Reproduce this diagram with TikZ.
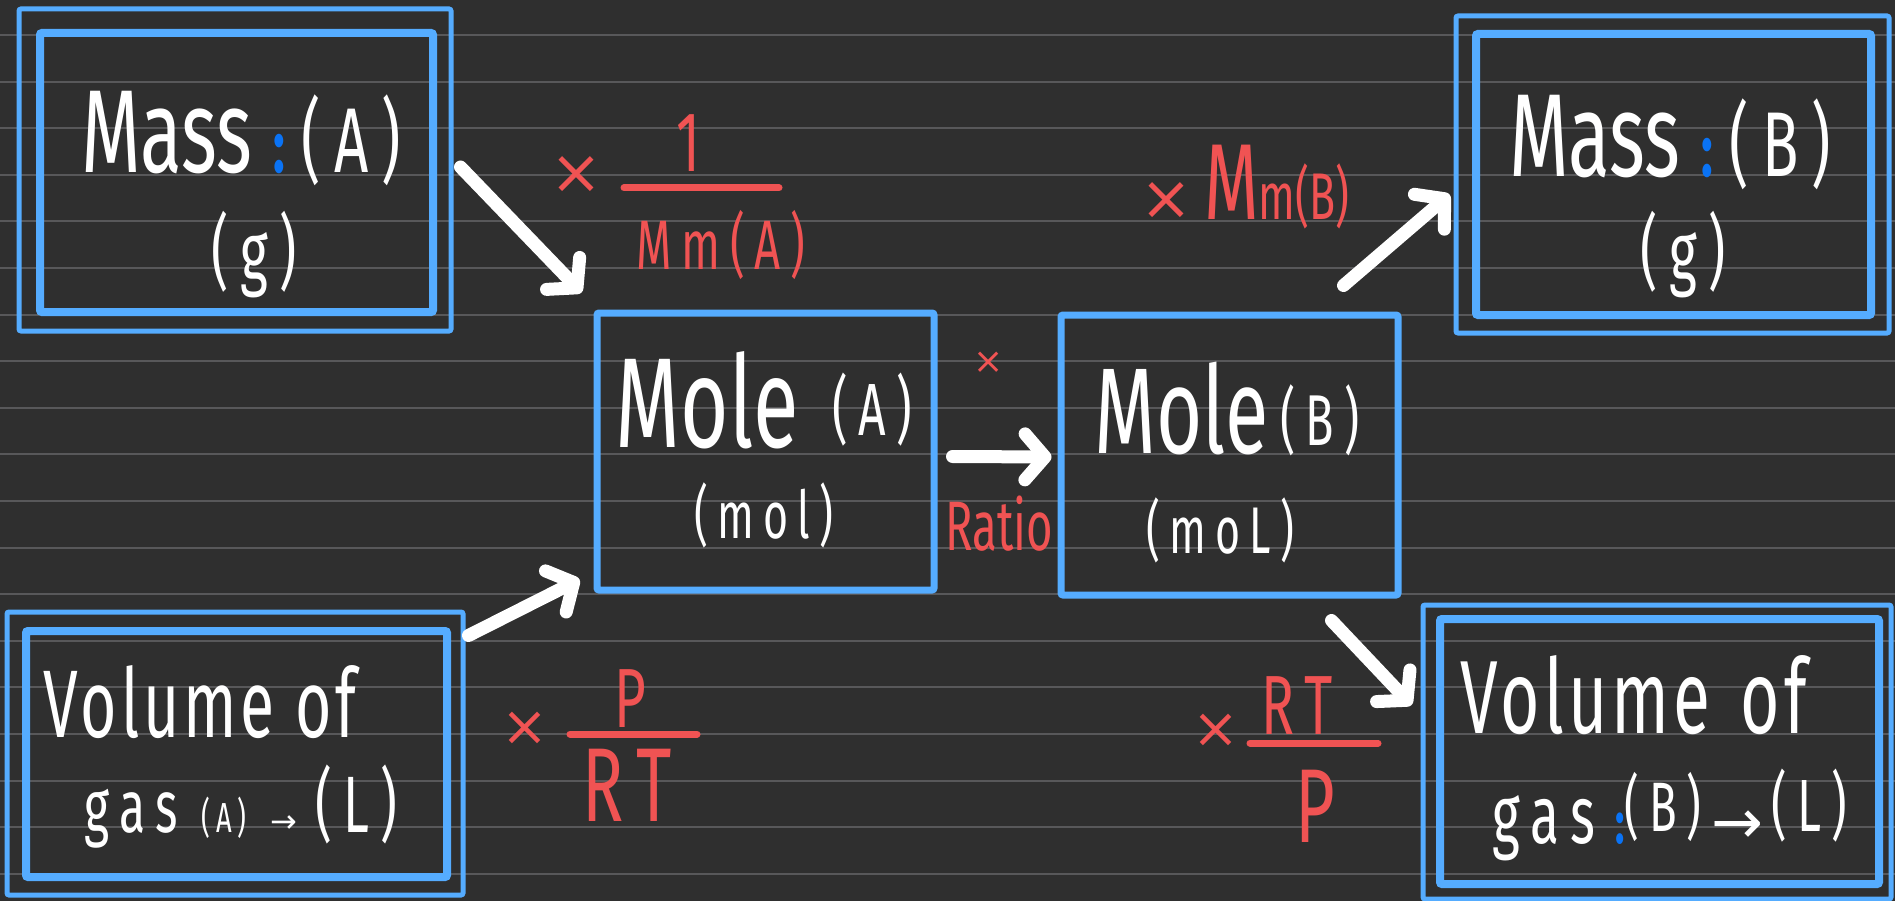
\documentclass[tikz,border=0pt]{standalone}
\usepackage{fontspec}
\setmainfont[FakeStretch=0.65]{Fira Sans}
\newfontfamily\spaced[FakeStretch=0.65, LetterSpace=14]{Fira Sans}
\newfontfamily\looser[FakeStretch=0.65, LetterSpace=4]{Fira Sans}
\newfontfamily\arrowfont{DejaVu Sans}
\usetikzlibrary{arrows.meta}
\definecolor{boardgray}{RGB}{47,47,47}
\definecolor{ruleline}{RGB}{88,88,90}
\definecolor{boxblue}{RGB}{85,172,255}
\definecolor{colonblue}{RGB}{10,115,245}
\definecolor{penred}{RGB}{240,83,83}
\newcommand{\penfs}[1]{\fontsize{#1}{#1}\selectfont}
\newcommand{\bluecolon}{{\color{colonblue}\bfseries:}}
\newcommand{\smallarrow}{{\arrowfont →}}
\newcommand{\mult}{{\arrowfont ×}}

\begin{document}
\begin{tikzpicture}[x=1pt, y=-1pt,
    outerbox/.style={draw=boxblue, line width=5, rounded corners=2, inner sep=0},
    innerbox/.style={draw=boxblue, line width=8, rounded corners=2, inner sep=0},
    molebox/.style={draw=boxblue, line width=7, rounded corners=2, inner sep=0},
    hand/.style={white, inner sep=0},
    redtxt/.style={penred, inner sep=0},
    redbar/.style={penred, line width=7, line cap=round},
    arr/.style={white, line width=13, line cap=round,
                -{Straight Barb[length=20pt, width=46pt, round]}}]
    \useasboundingbox (0,0) rectangle (1895,901);
    \fill[boardgray] (0,0) rectangle (1895,901);
    % ruled paper
    \foreach \k in {0,...,18}
        \draw[ruleline, line width=2] (0,35+46.6*\k) -- (1895,35+46.6*\k);

    % Mass (A)
    \node[outerbox, minimum width=432, minimum height=322] (massAo) at (235,170) {};
    \node[innerbox, minimum width=393, minimum height=279] (massAi) at (236.5,172.5) {};
    \node[hand, anchor=base] (massAtop) at (241,173) {\penfs{118}Mass \penfs{75}\bluecolon{} \spaced\penfs{92}(A)};
    \node[hand] (massAunit) at (254,255) {\spaced\penfs{82}(g)};

    % Volume (A)
    \node[outerbox, minimum width=456, minimum height=283] (volAo) at (235,753.5) {};
    \node[innerbox, minimum width=421, minimum height=246] (volAi) at (236.5,754) {};
    \node[hand, anchor=base] (volAtop) at (200,737) {\looser\penfs{96}Volume of};
    \node[hand, anchor=base] (volAbot) at (241,832) {\spaced\penfs{74}gas\hspace{24pt}\penfs{42}(A)\hspace{24pt}\penfs{32}\smallarrow\hspace{18pt}\penfs{80}(L)};

    % Mole (A) and Mole (B)
    \node[molebox, minimum width=337, minimum height=277] (moleA) at (765.5,451.5) {};
    \node[hand, anchor=base] (moleAtop) at (764,447) {\penfs{128}Mole\hspace{34pt}\spaced\penfs{74}\raisebox{12pt}{(A)}};
    \node[hand] (moleAunit) at (764,515) {\spaced\penfs{66}(mol)};
    \node[molebox, minimum width=337, minimum height=280] (moleB) at (1229.5,455) {};
    \node[hand, anchor=base] (moleBtop) at (1227,453) {\penfs{122}Mole\hspace{12pt}\spaced\penfs{72}\raisebox{8pt}{(B)}};
    \node[hand] (moleBunit) at (1220,530) {\spaced\penfs{66}(moL)};

    % Mass (B)
    \node[outerbox, minimum width=433, minimum height=317] (massBo) at (1672.5,174.5) {};
    \node[innerbox, minimum width=395, minimum height=281] (massBi) at (1673.5,174.5) {};
    \node[hand, anchor=base] (massBtop) at (1670,177) {\penfs{118}Mass \penfs{75}\bluecolon{} \spaced\penfs{92}(B)};
    \node[hand] (massBunit) at (1683,255) {\spaced\penfs{82}(g)};

    % Volume (B)
    \node[outerbox, minimum width=468, minimum height=294] (volBo) at (1657,752) {};
    \node[innerbox, minimum width=439, minimum height=265] (volBi) at (1659.5,751.5) {};
    \node[hand, anchor=base] (volBtop) at (1634,733) {\looser\penfs{104}Volume\hspace{8pt} of};
    \node[hand, anchor=base] (volBbot) at (1670,843) {\spaced\penfs{82}gas\hspace{20pt}\penfs{60}\bluecolon\penfs{70}\raisebox{12pt}{(B)}\hspace{10pt}\penfs{62}\smallarrow\hspace{8pt}\penfs{74}\raisebox{12pt}{(L)}};

    % arrows
    \draw[arr] ([shift={(7,-3)}]massAo.east) -- ([shift={(-12,-17)}]moleA.north west);
    \draw[arr] ([shift={(3,26)}]volAo.north east) -- ([shift={(-14,-14)}]moleA.south west);
    \draw[arr] ([shift={(15,5)}]moleA.east) -- ([shift={(-6,2)}]moleB.west);
    \draw[arr] ([shift={(-58,-26)}]moleB.north east) -- ([shift={(-4,20)}]massBo.west);
    \draw[arr] ([shift={(-70,22)}]moleB.south east) -- ([shift={(-9,-47)}]volBo.west);

    % factors
    \node[redtxt] (timesA) at (576,175) {\penfs{62}\mult};
    \node[redtxt] (oneA) at (688,143) {\penfs{85}1};
    \draw[redbar] (624,188) -- (779,188);
    \node[redtxt] (mmA) at (721,245) {\spaced\penfs{70}Mm(A)};

    \node[redtxt] (timesR) at (989,363) {\penfs{36}\mult};
    \node[redtxt] (ratio) at (999,524) {\penfs{70}Ratio};

    \node[redtxt, anchor=base west] (mmB) at (1140,220) {\penfs{62}\mult\hspace{12pt}\penfs{108}M\penfs{66}m(B)};

    \node[redtxt] (timesV) at (525,729) {\penfs{56}\mult};
    \node[redtxt] (pA) at (630,699) {\penfs{84}P};
    \draw[redbar] (570,734) -- (697,734);
    \node[redtxt] (rtA) at (627,785) {\spaced\penfs{105}RT};

    \node[redtxt] (timesW) at (1216,731) {\penfs{56}\mult};
    \node[redtxt] (rtB) at (1297,706) {\spaced\penfs{84}RT};
    \draw[redbar] (1250,743) -- (1378,743);
    \node[redtxt] (pB) at (1315,806) {\penfs{105}P};
\end{tikzpicture}
\end{document}
